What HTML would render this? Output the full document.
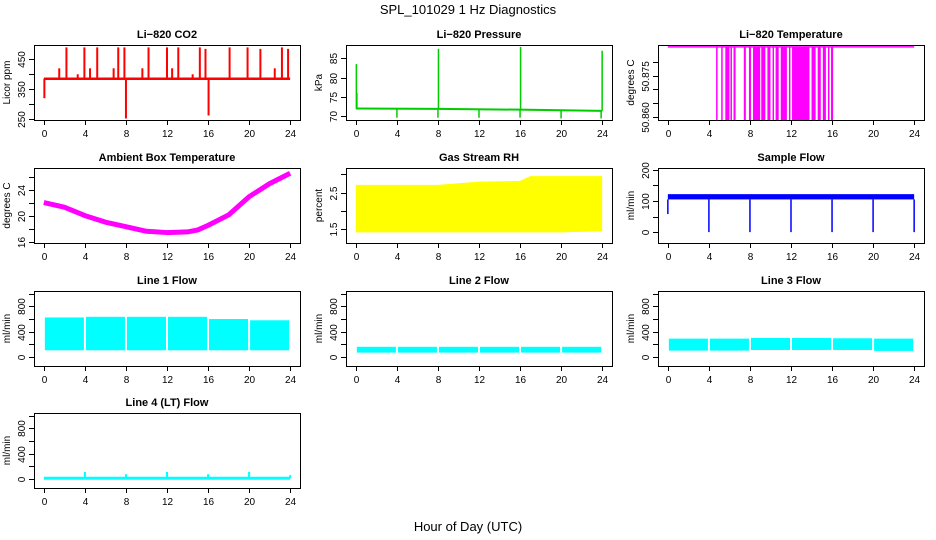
<!DOCTYPE html>
<html><head><meta charset="utf-8"><style>
html,body{margin:0;padding:0;background:#fff;}
svg{display:block;font-family:"Liberation Sans",Arial,sans-serif;}
</style></head><body>
<svg id="fig" width="936" height="540" viewBox="0 0 936 540">
<text x="468" y="14" text-anchor="middle" font-size="13">SPL_101029  1 Hz Diagnostics</text>
<text x="468" y="531" text-anchor="middle" font-size="13">Hour of Day (UTC)</text>
</svg>
<script>
// ---------- data ----------
const xTicks=[0,4,8,12,16,20,24];
// CO2
const co2Base=385;
const co2SpikeHours=[0.05,1.5,2.2,3.3,3.95,4.5,5.2,6.8,7.25,7.85,8.0,9.6,10.2,12.0,12.5,13.1,14.5,15.2,15.75,16.05,18.1,19.85,21.1,22.5,23.2,23.8];
const co2SpikeValues=[320,420,490,400,490,420,490,420,490,490,252,420,490,490,420,490,400,490,485,262,490,490,485,420,490,485];
// Pressure
const presBaseHours=[0,8,16,24];
const presBaseValues=[71.9,71.8,71.6,71.3];
const presSpikeHours=[0.05,0.1,4,8,8.05,12,16,16.05,20,23.9,24];
const presSpikeValues=[83.5,76,69.5,69.5,87.5,69.5,69.5,88,69.3,69.3,87];
// Li-820 temperature
const tempHigh=50.8855, tempLow=50.8588;
const dropStarts=[4.7,5.2,5.6,6.1,6.4,7.4,7.9,8.3,9.1,9.7,10.2,10.5,11.0,11.8,12.1,14.0,14.6,15.1,15.6,15.9];
const dropEnds=[4.75,5.25,6.0,6.15,6.6,7.6,8.1,9.0,9.5,10.0,10.3,10.8,11.6,11.9,13.8,14.4,14.9,15.4,15.7,16.1];
// Ambient box temp
const ambHours=[0,2,4,6,8,10,12,14,15,16,18,20,22,24];
const ambTemps=[22.1,21.4,20.1,19.1,18.4,17.7,17.5,17.6,17.9,18.6,20.2,23.0,25.0,26.6];
// RH
const rhHours=[0,4,8,12,16,17,20,24];
const rhUpper=[2.71,2.71,2.71,2.8,2.82,2.95,2.95,2.95];
const rhLower=[1.42,1.42,1.42,1.42,1.42,1.42,1.42,1.45];
// Sample flow
const sfUpper=122, sfLower=105;
const sfDipHours=[4,8,12,16,20,24];
const sfDipValues=[0,0,0,0,0,0];
// Line flows: hourly segment upper/lower
const segHours=[0,4,8,12,16,20,24];
const l1Upper=[625,635,635,635,600,580];
const l1Lower=[105,105,105,105,105,105];
const l2Upper=[160,160,160,160,160,160];
const l2Lower=[68,68,68,68,68,68];
const l3Upper=[290,290,300,300,295,290];
const l3Lower=[100,100,110,110,110,95];
// Line 4
const l4Base=10;
const l4SpikeHours=[4,8,12,16,20,24];
const l4SpikeValues=[110,75,110,75,110,60];

// ---------- drawing ----------
const NS="http://www.w3.org/2000/svg";
const svg=document.getElementById('fig');
const lefts=[34,346,658], tops=[45,168,291,413], W=266, H=75;
function el(tag,attrs,parent){const e=document.createElementNS(NS,tag);for(const k in attrs)e.setAttribute(k,attrs[k]);(parent||svg).appendChild(e);return e;}

function panel(col,row,name,title,ylab,ylim,yticks,ylabels){
  const L=lefts[col],T=tops[row];
  const g=el('g',{});
  
  
  const xs=h=>L+(h+0.96)/25.92*W;
  const ys=v=>T+H-(v-ylim[0])/(ylim[1]-ylim[0])*H;
  const t=el('text',{x:L+W/2,y:T-7,'text-anchor':'middle','font-size':11,'font-weight':'bold'},g);
  t.textContent=title;
  
  
  const yl=el('text',{x:0,y:0,'text-anchor':'middle','font-size':10,transform:`translate(${L-24},${T+H/2}) rotate(-90)`},g);
  yl.textContent=ylab;
  
  
  const marks=el('g',{},g);
  
  
  // axes
  const ax=el('g',{stroke:'#000','stroke-width':1,fill:'none'},g);
  
  
  el('rect',{x:L+0.5,y:T+0.5,width:W,height:H},ax);
  el('line',{x1:xs(0),x2:xs(24),y1:T+H+0.5,y2:T+H+0.5},ax);
  xTicks.forEach(h=>{
    const x=Math.round(xs(h))+0.5;
    el('line',{x1:x,x2:x,y1:T+H,y2:T+H+5},ax);
    const tx=el('text',{x:x,y:T+H+17,'text-anchor':'middle','font-size':10,fill:'#000',stroke:'none'},g);
    tx.textContent=h;
    
    
  });
  yticks.forEach((v,i)=>{
    const y=Math.round(ys(v))+0.5;
    el('line',{x1:L-5,x2:L,y1:y,y2:y},ax);
    if(ylabels[i]!==''){
      const ty=el('text',{x:0,y:0,'text-anchor':'middle','font-size':10,fill:'#000',stroke:'none',transform:`translate(${L-9},${y}) rotate(-90)`},g);
      ty.textContent=ylabels[i];
      
      
    }
  });
  return {xs,ys,marks};
}

// 1 CO2
(function(){
  const p=panel(0,0,'co2','Li\u2212820 CO2','Licor ppm',[247,498],[250,300,350,400,450],['250','','350','','450']);
  el('line',{x1:p.xs(0),x2:p.xs(24),y1:p.ys(co2Base),y2:p.ys(co2Base),stroke:'#f00','stroke-width':2.5},p.marks);
  co2SpikeHours.forEach((h,i)=>{
    const l=el('line',{x1:p.xs(h),x2:p.xs(h),y1:p.ys(co2Base),y2:p.ys(co2SpikeValues[i]),stroke:'#f00','stroke-width':2},p.marks);
    
    
  });
})();
// 2 Pressure
(function(){
  const p=panel(1,0,'pressure','Li\u2212820 Pressure','kPa',[68.9,88.5],[70,75,80,85],['70','75','80','85']);
  el('polyline',{points:presBaseHours.map((h,i)=>p.xs(h)+','+p.ys(presBaseValues[i])).join(' '),fill:'none',stroke:'#0c0','stroke-width':2},p.marks);
  presSpikeHours.forEach((h,i)=>{
    const base=presBaseValues[0]+(presBaseValues[presBaseValues.length-1]-presBaseValues[0])*h/24;
    const l=el('line',{x1:p.xs(h),x2:p.xs(h),y1:p.ys(base),y2:p.ys(presSpikeValues[i]),stroke:'#0c0','stroke-width':1.5},p.marks);
    
    
  });
})();
// 3 Li-820 temp
(function(){
  const p=panel(2,0,'li820-temp','Li\u2212820 Temperature','degrees C',[50.8588,50.8862],[50.860,50.865,50.870,50.875,50.880],['50.860','','','50.875','']);
  el('line',{x1:p.xs(0),x2:p.xs(24),y1:p.ys(tempHigh),y2:p.ys(tempHigh),stroke:'#f0f','stroke-width':1.5},p.marks);
  dropStarts.forEach((s,i)=>{
    const r=el('rect',{x:p.xs(s),y:p.ys(tempHigh),width:Math.max(1.5,p.xs(dropEnds[i])-p.xs(s)),height:p.ys(tempLow)-p.ys(tempHigh),fill:'#f0f'},p.marks);
    
    
  });
})();
// 4 Ambient
(function(){
  const p=panel(0,1,'ambient','Ambient Box Temperature','degrees C',[15.9,27.4],[16,18,20,22,24,26],['16','','20','','24','']);
  const l=el('polyline',{points:ambHours.map((h,i)=>p.xs(h)+','+p.ys(ambTemps[i])).join(' '),fill:'none',stroke:'#f0f','stroke-width':5,'stroke-linejoin':'round'},p.marks);
  
  
})();
// 5 RH
(function(){
  const p=panel(1,1,'rh','Gas Stream RH','percent',[1.13,3.17],[1.5,2.0,2.5,3.0],['1.5','','2.5','']);
  const pts=rhHours.map((h,i)=>p.xs(h)+','+p.ys(rhUpper[i])).concat(rhHours.slice().reverse().map((h,i)=>p.xs(h)+','+p.ys(rhLower[rhHours.length-1-i])));
  const b=el('polygon',{points:pts.join(' '),fill:'#ff0'},p.marks);
  
  
})();
// 6 Sample flow
(function(){
  const p=panel(2,1,'sample-flow','Sample Flow','ml/min',[-35,206],[0,50,100,150,200],['0','','100','','200']);
  el('rect',{x:p.xs(0),y:p.ys(sfUpper),width:p.xs(24)-p.xs(0),height:p.ys(sfLower)-p.ys(sfUpper),fill:'#00f'},p.marks);
  el('line',{x1:p.xs(0),x2:p.xs(0),y1:p.ys(sfLower),y2:p.ys(58),stroke:'#00f','stroke-width':1.5},p.marks);
  sfDipHours.forEach((h,i)=>{
    const l=el('line',{x1:p.xs(h),x2:p.xs(h),y1:p.ys(sfLower),y2:p.ys(sfDipValues[i]),stroke:'#00f','stroke-width':1.5},p.marks);
    
    
  });
})();
// Line flows
function flowPanel(col,row,name,title,upper,lower){
  const p=panel(col,row,name,title,'ml/min',[-144,1044],[0,200,400,600,800,1000],['0','','400','','800','']);
  for(let i=0;i<upper.length;i++){
    const x0=p.xs(segHours[i])+1,x1=p.xs(segHours[i+1])-1;
    const r=el('rect',{x:x0,y:p.ys(upper[i]),width:x1-x0,height:p.ys(lower[i])-p.ys(upper[i]),fill:'#0ff'},p.marks);
    
    
  }
}
flowPanel(0,2,'line1-flow','Line 1 Flow',l1Upper,l1Lower);
flowPanel(1,2,'line2-flow','Line 2 Flow',l2Upper,l2Lower);
flowPanel(2,2,'line3-flow','Line 3 Flow',l3Upper,l3Lower);
// Line 4
(function(){
  const p=panel(0,3,'line4-flow','Line 4 (LT) Flow','ml/min',[-144,1044],[0,200,400,600,800,1000],['0','','400','','800','']);
  el('line',{x1:p.xs(0),x2:p.xs(24),y1:p.ys(l4Base),y2:p.ys(l4Base),stroke:'#0ff','stroke-width':3},p.marks);
  l4SpikeHours.forEach((h,i)=>{
    const l=el('line',{x1:p.xs(h),x2:p.xs(h),y1:p.ys(l4Base),y2:p.ys(l4SpikeValues[i]),stroke:'#0ff','stroke-width':2},p.marks);
    
    
  });
})();
</script>
</body></html>
